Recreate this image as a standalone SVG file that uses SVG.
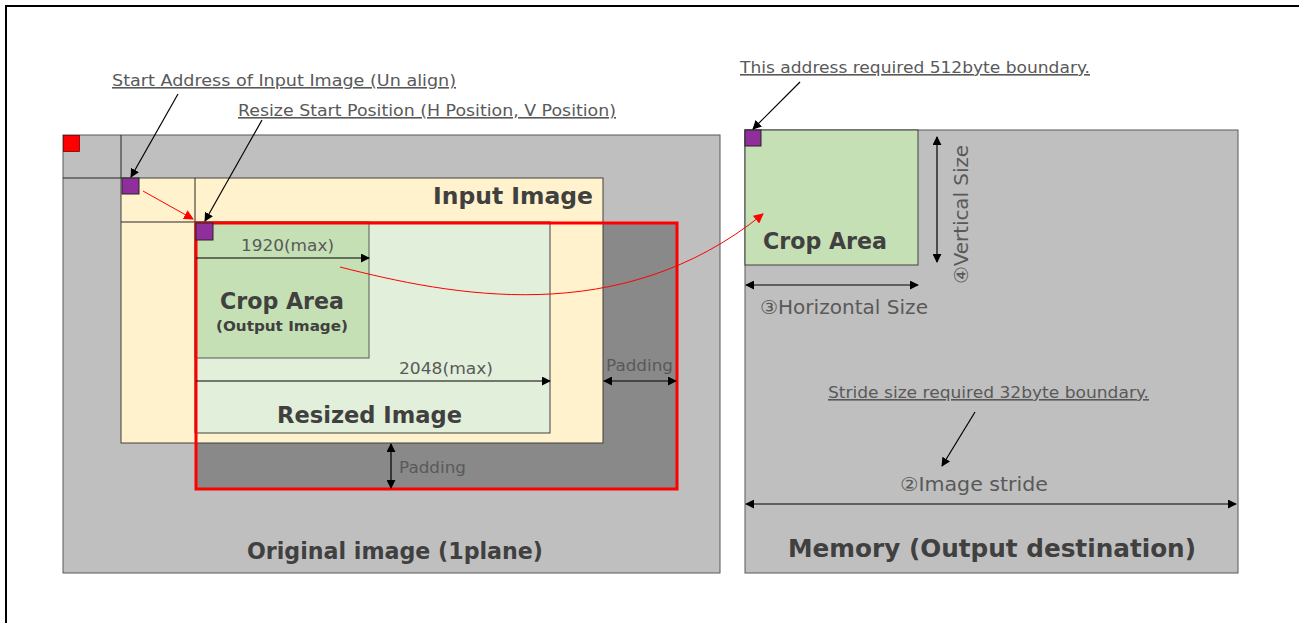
<svg xmlns="http://www.w3.org/2000/svg" width="1299" height="623" viewBox="0 0 1299 623">
<defs>
<marker id="ab" viewBox="0 0 10 10" refX="9" refY="5" markerWidth="9" markerHeight="9" markerUnits="userSpaceOnUse" orient="auto-start-reverse"><path d="M0,0 L10,5 L0,10 z" fill="#000"/></marker>
<marker id="ar" viewBox="0 0 10 10" refX="9" refY="5" markerWidth="10" markerHeight="10" markerUnits="userSpaceOnUse" orient="auto"><path d="M0,0 L10,5 L0,10 z" fill="#ff0000"/></marker>
<style>
.t{font-family:"DejaVu Sans","Noto Sans",sans-serif;fill:#595959;}
.b{font-family:"DejaVu Sans","Noto Sans",sans-serif;font-weight:bold;fill:#404040;}
.u{text-decoration:underline;}
.box{stroke:#404040;stroke-width:1;}
.pu{fill:#902e9c;stroke:#262626;stroke-width:1;}
.ln{stroke:#000;stroke-width:1.2;fill:none;}
.dim{stroke:#000;stroke-width:1.2;fill:none;}
</style>
</defs>
<rect width="1299" height="623" fill="#fff"/>
<path d="M6,623 V6 H1299" fill="none" stroke="#000" stroke-width="2"/>

<g id="original-image">
<rect x="63" y="135" width="657" height="438" fill="#bfbfbf" stroke="#595959" stroke-width="1"/>
<rect x="63.5" y="135.5" width="16" height="16" fill="#ff0000" stroke="#7f0000" stroke-width="0.8"/>
<path d="M121,135 V178 M63,178 H121" stroke="#262626" stroke-width="1"/>
<text class="b" x="247" y="559" font-size="23" textLength="296" lengthAdjust="spacingAndGlyphs">Original image (1plane)</text>
</g>

<g id="padding-area">
<rect x="195" y="222" width="482" height="267" fill="#898989"/>
</g>

<g id="input-image">
<rect x="121" y="178" width="482" height="265" fill="#fff2cc" class="box"/>
<path d="M195,178 V222 M121,222 H195" stroke="#262626" stroke-width="1"/>
<text class="b" x="433" y="204" font-size="23" textLength="160" lengthAdjust="spacingAndGlyphs">Input Image</text>
</g>

<g id="resized-image">
<rect x="195" y="222" width="355" height="211" fill="#e2efda" class="box"/>
<text class="b" x="277" y="423" font-size="23" textLength="185" lengthAdjust="spacingAndGlyphs">Resized Image</text>
<text class="t" x="399" y="374" font-size="16" textLength="94" lengthAdjust="spacingAndGlyphs">2048(max)</text>
</g>

<g id="crop-area">
<rect x="195" y="222" width="174" height="136" fill="#c5e0b4" stroke="#595959" stroke-width="1"/>
<text class="t" x="241" y="251" font-size="16" textLength="93" lengthAdjust="spacingAndGlyphs">1920(max)</text>
<text class="b" x="220" y="309" font-size="23" textLength="124" lengthAdjust="spacingAndGlyphs">Crop Area</text>
<text class="b" x="216" y="331" font-size="14" textLength="132" lengthAdjust="spacingAndGlyphs">(Output Image)</text>
</g>

<g id="crop-outline">
<rect x="196" y="223" width="481" height="266" fill="none" stroke="#ff0000" stroke-width="3"/>
</g>

<g id="start-markers">
<rect x="122" y="178" width="17" height="16" class="pu"/>
<rect x="196" y="223" width="17" height="17" class="pu"/>
</g>

<g id="labels-left">
<text class="t u" x="112" y="86" font-size="16" textLength="344" lengthAdjust="spacingAndGlyphs">Start Address of Input Image (Un align)</text>
<text class="t u" x="238" y="116" font-size="16" textLength="378" lengthAdjust="spacingAndGlyphs">Resize Start Position (H Position, V Position)</text>
<text class="t" x="606" y="371" font-size="16" textLength="67" lengthAdjust="spacingAndGlyphs">Padding</text>
<text class="t" x="399" y="473" font-size="16" textLength="67" lengthAdjust="spacingAndGlyphs">Padding</text>
</g>

<g id="memory">
<rect x="745" y="130" width="493" height="443" fill="#bfbfbf" stroke="#595959" stroke-width="1"/>
<text class="b" x="788" y="557" font-size="25" textLength="408" lengthAdjust="spacingAndGlyphs">Memory (Output destination)</text>
<text class="t" x="900" y="491" font-size="19" textLength="148" lengthAdjust="spacingAndGlyphs">②Image stride</text>
<text class="t u" x="828" y="398" font-size="16" textLength="321" lengthAdjust="spacingAndGlyphs">Stride size required 32byte boundary.</text>
</g>

<g id="memory-crop">
<rect x="745" y="130" width="173" height="135" fill="#c5e0b4" stroke="#404040" stroke-width="1"/>
<rect x="745" y="130" width="16" height="16" class="pu"/>
<text class="b" x="763" y="249" font-size="23" textLength="124" lengthAdjust="spacingAndGlyphs">Crop Area</text>
<text class="t" x="760" y="314" font-size="19" textLength="168" lengthAdjust="spacingAndGlyphs">③Horizontal Size</text>
<text class="t" transform="translate(968,284) rotate(-90)" font-size="19" textLength="139" lengthAdjust="spacingAndGlyphs">④Vertical Size</text>
<text class="t u" x="740" y="73" font-size="16" textLength="350" lengthAdjust="spacingAndGlyphs">This address required 512byte boundary.</text>
</g>

<g id="connectors">
<line class="ln" x1="178" y1="94" x2="131" y2="177" marker-end="url(#ab)"/>
<line class="ln" x1="262" y1="120" x2="205" y2="221" marker-end="url(#ab)"/>
<line x1="143" y1="191" x2="193" y2="219" stroke="#ff0000" stroke-width="1" marker-end="url(#ar)"/>
<path d="M340,267 C450,295 620,330 763,214" fill="none" stroke="#ff0000" stroke-width="1" marker-end="url(#ar)"/>
<line class="dim" x1="196" y1="258" x2="369" y2="258" marker-end="url(#ab)"/>
<line class="dim" x1="196" y1="381" x2="550" y2="381" marker-end="url(#ab)"/>
<line class="dim" x1="604" y1="381" x2="676" y2="381" marker-start="url(#ab)" marker-end="url(#ab)"/>
<line class="dim" x1="391" y1="444" x2="391" y2="488" marker-start="url(#ab)" marker-end="url(#ab)"/>
<line class="ln" x1="800" y1="82" x2="753" y2="129" marker-end="url(#ab)"/>
<line class="dim" x1="937" y1="137" x2="937" y2="262" marker-start="url(#ab)" marker-end="url(#ab)"/>
<line class="dim" x1="746" y1="285" x2="918" y2="285" marker-start="url(#ab)" marker-end="url(#ab)"/>
<line class="ln" x1="975" y1="412" x2="942" y2="466" marker-end="url(#ab)"/>
<line class="dim" x1="746" y1="504" x2="1236" y2="504" marker-start="url(#ab)" marker-end="url(#ab)"/>
</g>
</svg>
